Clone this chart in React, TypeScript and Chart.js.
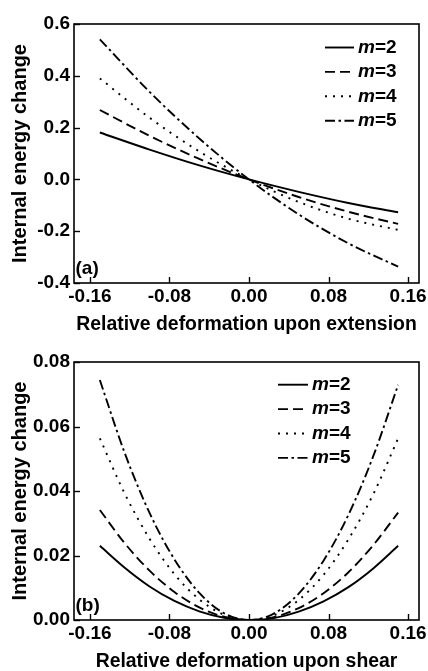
import React, { useEffect, useRef } from "react";
import { Chart, registerables } from "chart.js";

Chart.register(...registerables);

// ---------- data ----------
const xTickValues = [-0.16, -0.08, 0, 0.08, 0.16];
const yTickValuesA = [-0.4, -0.2, 0, 0.2, 0.4, 0.6];
const yTickValuesB = [0, 0.02, 0.04, 0.06, 0.08];
const mValues = ["2", "3", "4", "5"];

// (a) extension
const xExt = [-0.15, -0.1, -0.05, 0, 0.05, 0.1, 0.15];
const extM2 = [0.181, 0.115, 0.054, 0, -0.048, -0.091, -0.127];
const extM3 = [0.268, 0.168, 0.079, 0, -0.068, -0.125, -0.172];
const extM4 = [0.39, 0.238, 0.108, 0, -0.087, -0.152, -0.195];
const extM5 = [0.541, 0.338, 0.158, 0, -0.135, -0.247, -0.337];

// (b) shear
const xShear = [-0.15, -0.125, -0.1, -0.075, -0.05, -0.025, 0, 0.025, 0.05, 0.075, 0.1, 0.125, 0.15];
const shearM2 = [0.023, 0.0162, 0.0104, 0.0059, 0.0027, 0.0007, 0, 0.0006, 0.0026, 0.0058, 0.0102, 0.016, 0.023];
const shearM3 = [0.0341, 0.0238, 0.0153, 0.0087, 0.0039, 0.001, 0, 0.0009, 0.0037, 0.0083, 0.0148, 0.0232, 0.0333];
const shearM4 = [0.0563, 0.0392, 0.0252, 0.0142, 0.0064, 0.0016, 0, 0.0015, 0.0062, 0.014, 0.025, 0.039, 0.0563];
const shearM5 = [0.0744, 0.0518, 0.0332, 0.0188, 0.0084, 0.0021, 0, 0.002, 0.0082, 0.0184, 0.0326, 0.0508, 0.0729];

// ---------- styles ----------
const FONT = "'Liberation Sans', Arial, Helvetica, sans-serif";
const dashes = [[], [10, 5], [2, 6], [10, 3.5, 2.5, 3.5]];

function fmt(v: number, d: number) {
  const n = Math.abs(v) < 1e-9 ? 0 : v;
  return n.toFixed(d);
}

function makeDatasets(xs: number[], series: number[][]) {
  return series.map((ys, i) => ({
    label: mValues[i],
    data: xs.map((x, j) => ({ x, y: ys[j] })),
    borderColor: "#000",
    backgroundColor: "#000",
    borderWidth: 1.9,
    borderDash: dashes[i],
    pointRadius: 0,
    cubicInterpolationMode: "monotone" as const,
    fill: false,
  }));
}

function decorPlugin(panelLabel: string, legend: { dx: number; lineLen: number; dy: number; step: number }) {
  return {
    id: "decor",
    afterDraw(chart: any) {
      const { ctx, chartArea: a, scales } = chart;
      ctx.save();
      ctx.strokeStyle = "#000";
      ctx.fillStyle = "#000";
      ctx.setLineDash([]);
      ctx.lineWidth = 1.6;
      ctx.strokeRect(a.left, a.top, a.right - a.left, a.bottom - a.top);
      ctx.lineWidth = 1.4;
      const xs = scales.x;
      xs.ticks.forEach((t: any) => {
        const px = Math.round(xs.getPixelForValue(t.value)) + 0.5;
        ctx.beginPath();
        ctx.moveTo(px, a.bottom);
        ctx.lineTo(px, a.bottom - 6);
        ctx.stroke();
      });
      const ys = scales.y;
      ys.ticks.forEach((t: any) => {
        const py = Math.round(ys.getPixelForValue(t.value)) + 0.5;
        ctx.beginPath();
        ctx.moveTo(a.left, py);
        ctx.lineTo(a.left + 6, py);
        ctx.stroke();
      });
      // panel label
      ctx.font = `bold 19px ${FONT}`;
      ctx.textBaseline = "middle";
      ctx.textAlign = "left";
      ctx.fillText(panelLabel, a.left + 1.5, a.bottom - 14);
      // legend
      chart.data.datasets.forEach((ds: any, i: number) => {
        const y = a.top + legend.dy + i * legend.step;
        const x0 = a.right - legend.dx;
        ctx.lineWidth = 1.9;
        ctx.setLineDash(ds.borderDash || []);
        ctx.beginPath();
        ctx.moveTo(x0, y);
        ctx.lineTo(x0 + legend.lineLen, y);
        ctx.stroke();
        ctx.setLineDash([]);
        let tx = x0 + legend.lineLen + 4;
        ctx.font = `italic bold 19px ${FONT}`;
        ctx.fillText("m", tx, y);
        tx += ctx.measureText("m").width;
        ctx.font = `bold 19px ${FONT}`;
        ctx.fillText("=" + ds.label, tx, y);
      });
      ctx.restore();
    },
  };
}

function makeConfig(
  datasets: any[],
  yMin: number,
  yMax: number,
  yTicks: number[],
  yDec: number,
  xTitle: string,
  padTop: number,
  plugin: any
) {
  return {
    type: "line" as const,
    data: { datasets },
    plugins: [plugin],
    options: {
      responsive: false,
      animation: false as const,
      devicePixelRatio: 1,
      layout: { padding: { top: padTop, right: 9, left: 0, bottom: 0 } },
      plugins: { legend: { display: false }, tooltip: { enabled: false } },
      scales: {
        x: {
          type: "linear" as const,
          min: -0.176,
          max: 0.171,
          grid: { display: false, drawTicks: false },
          border: { display: false },
          afterBuildTicks: (s: any) => {
            s.ticks = xTickValues.map((v) => ({ value: v }));
          },
          afterFit: (s: any) => {
            s.height = 51;
            s.paddingLeft = 0;
            s.paddingRight = 0;
          },
          ticks: {
            color: "#000",
            padding: 2,
            maxRotation: 0,
            autoSkip: false,
            font: { family: FONT, size: 19, weight: "bold" as const },
            callback: (v: any) => fmt(Number(v), 2),
          },
          title: {
            display: true,
            text: xTitle,
            color: "#000",
            padding: { top: 0, bottom: 0 },
            font: { family: FONT, size: 19.4, weight: "bold" as const, lineHeight: 1 },
          },
        },
        y: {
          type: "linear" as const,
          min: yMin,
          max: yMax,
          grid: { display: false, drawTicks: false },
          border: { display: false },
          afterBuildTicks: (s: any) => {
            s.ticks = yTicks.map((v) => ({ value: v }));
          },
          afterFit: (s: any) => {
            s.width = 74;
            s.paddingTop = 0;
            s.paddingBottom = 0;
          },
          ticks: {
            color: "#000",
            padding: 4,
            autoSkip: false,
            font: { family: FONT, size: 19, weight: "bold" as const },
            callback: (v: any) => fmt(Number(v), yDec),
          },
          title: {
            display: true,
            text: "Internal energy change",
            color: "#000",
            padding: { top: 8, bottom: 0 },
            font: { family: FONT, size: 20, weight: "bold" as const },
          },
        },
      },
    },
  };
}

export default function App() {
  const refA = useRef<HTMLCanvasElement>(null);
  const refB = useRef<HTMLCanvasElement>(null);

  useEffect(() => {
    const chartA = new Chart(
      refA.current as HTMLCanvasElement,
      makeConfig(
        makeDatasets(xExt, [extM2, extM3, extM4, extM5]),
        -0.4,
        0.6,
        yTickValuesA,
        1,
        "Relative deformation upon extension",
        24,
        decorPlugin("(a)", { dx: 94, lineLen: 29, dy: 23.5, step: 24.4 })
      ) as any
    );
    const chartB = new Chart(
      refB.current as HTMLCanvasElement,
      makeConfig(
        makeDatasets(xShear, [shearM2, shearM3, shearM4, shearM5]),
        0,
        0.08,
        yTickValuesB,
        2,
        "Relative deformation upon shear",
        24,
        decorPlugin("(b)", { dx: 141, lineLen: 30, dy: 22.7, step: 24.4 })
      ) as any
    );
    return () => {
      chartA.destroy();
      chartB.destroy();
    };
  }, []);

  return (
    <div
      style={{
        position: "fixed",
        left: 0,
        top: 0,
        width: 428,
        height: 671,
        background: "#fff",
        overflow: "hidden",
      }}
    >
      <canvas
        ref={refA}
        width={428}
        height={334}
        style={{ position: "absolute", left: 0, top: 0, width: 428, height: 334, display: "block" }}
      />
      <canvas
        ref={refB}
        width={428}
        height={333}
        style={{ position: "absolute", left: 0, top: 338, width: 428, height: 333, display: "block" }}
      />
    </div>
  );
}
